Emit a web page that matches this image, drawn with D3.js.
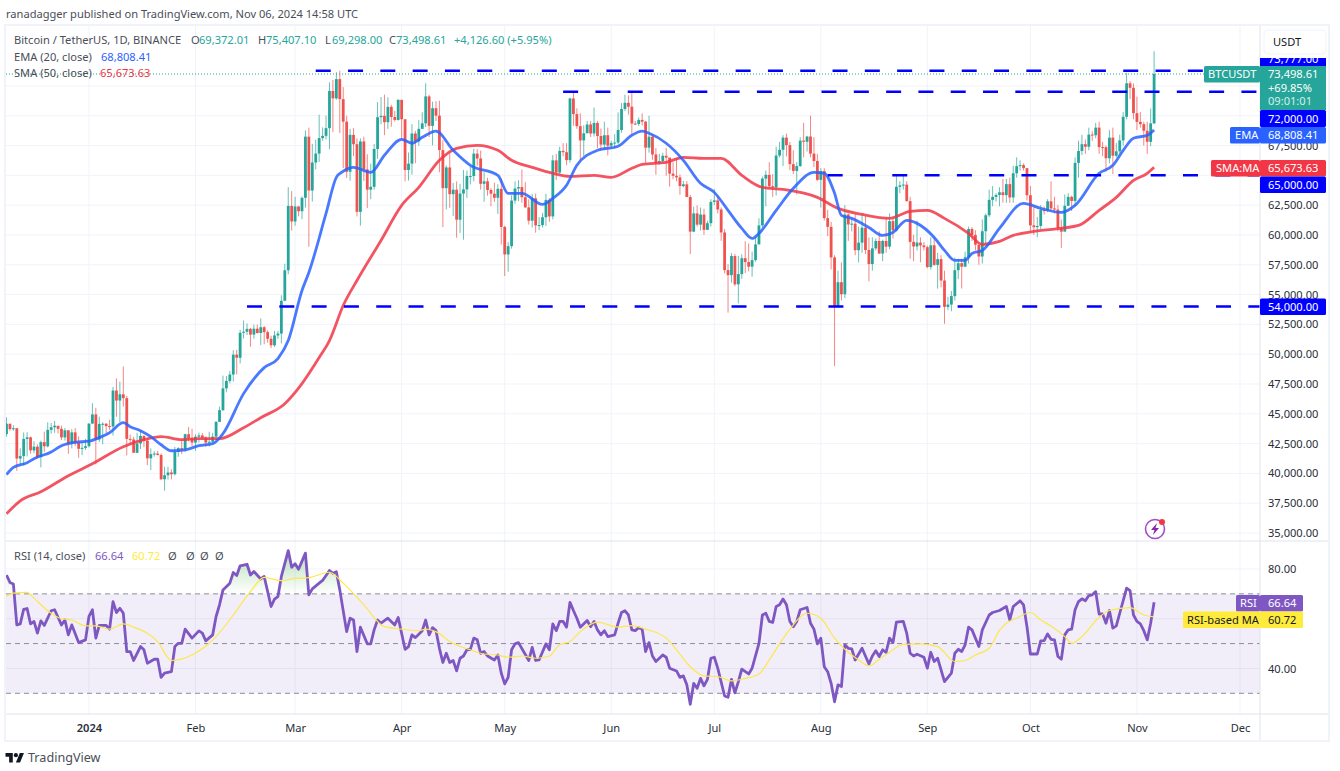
<!DOCTYPE html>
<html>
<head>
<meta charset="utf-8">
<title>BTCUSDT</title>
<script src="https://cdn.jsdelivr.net/npm/d3@7"></script>
<style>
  html, body { margin: 0; background: #fff; }
  text { font-family: "Noto Sans", sans-serif; font-size: 11.1px; fill: #131722; }
</style>
</head>
<body>
<svg id="chart" width="1340" height="771"></svg>
<script>
// Daily candles, first one is 2023-12-08. Opens follow the previous close.
const firstDay = new Date(2023, 11, 8);
const firstOpen = 43292;

const closes = [
  // Dec 8 ->
  44170,43713,43789,41243,41450,42890,43023,41929,42240,41364,42623,42270,43652,43869,43997,43739,43016,43613,42520,43442,42581,42066,42140,42283,
  // Jan
  44179,44946,42845,44151,44162,43968,43929,46951,46110,46632,46314,42893,42842,41732,42511,43143,42742,41262,41618,41665,41545,39507,39845,40077,39933,41816,42120,42035,43288,42952,42582,
  // Feb
  43075,43185,42992,42583,42658,43084,44318,45301,47132,47751,48293,49958,49699,51795,51880,52124,51642,52137,51774,52258,51849,51288,50744,51568,51728,54476,57037,62432,61130,
  // Mar
  62387,61987,63113,68245,63724,66074,66823,68124,68313,68955,72078,71452,73072,71388,69499,65300,68393,67609,61937,67840,65501,63796,64037,67211,69880,69988,69455,70744,69892,69645,71333,
  // Apr
  69702,65446,65980,68508,67837,68896,69360,71620,69146,70631,70006,67116,63924,65661,63419,63793,61277,63470,63818,64941,64941,66819,66414,64289,64498,63770,63461,63118,63866,60672,
  // May
  58364,59060,62882,63892,64012,63165,62312,61193,63074,60799,60825,61484,62936,61553,66256,65231,67051,66940,66278,71446,70136,69122,67929,68526,69265,68508,69394,68296,67578,68364,67491,
  // Jun
  67706,67751,68804,70567,71082,70757,69342,69305,69649,69500,67321,68243,66747,66006,66191,66639,66490,65140,64960,64828,64096,64245,63180,60277,61806,60864,61706,60427,60986,62772,
  // Jul
  62899,62135,60208,57050,56628,58230,55857,56714,58050,57725,57339,57889,59204,60797,64724,65043,64087,63987,66660,67139,68165,67532,65936,65372,65777,67912,67813,68255,66819,66201,64619,
  // Aug
  65357,61415,60680,58116,53991,56034,55027,61710,60880,60945,58719,59354,60609,58739,57560,58874,59491,58439,59494,59017,61157,60381,64037,64157,64220,62834,59416,59034,59359,59123,58973,
  // Sep
  57301,59132,57487,57970,56180,53962,54160,54869,57042,57631,57341,58127,60498,60000,59182,58192,60309,61649,62940,63192,63348,63578,63339,64262,63143,65173,65769,65858,65602,63327,
  // Oct
  60805,60649,60752,62086,62058,62819,62224,62131,60582,60274,62445,63193,62851,66046,67041,67612,67399,68418,68362,69001,67367,67361,66432,68161,66642,67014,67929,69907,72720,72339,70215,
  // Nov
  69482,69289,68741,67811,69359,73498
];

const highs = [
  44700,44050,44040,43800,42100,43430,43450,43090,42700,42430,42750,43500,44284,44230,44400,43950,44000,43800,43600,43700,43800,43100,42600,42900,
  44184,45879,45500,44770,44300,44225,44500,47248,47972,47695,48969,46500,43257,43079,43400,43578,43198,42930,42100,41865,41880,41680,40555,40555,40350,42225,42200,42842,43333,43882,43745,
  43285,43422,43380,43120,43494,43400,44396,45600,48200,48170,48592,50334,50368,52043,52820,52576,52200,52473,52485,53000,52370,52000,51550,51960,51950,54938,57588,64000,63677,
  63200,62433,63230,68760,69000,67637,67990,70084,69020,70005,72800,73000,73650,73777,72400,70000,68900,68956,68100,68100,68240,66770,65976,67622,71150,71561,71768,71552,70912,70400,71366,
  71288,69700,66914,69291,68725,69629,70288,72715,71758,71172,71227,71256,67931,65838,66867,64355,64486,64293,65450,65399,65723,67233,67200,67076,65275,64800,63910,64370,64250,64734,
  60780,59400,63320,64494,64600,65500,64422,62995,63445,63469,61490,61850,63450,63100,66700,66800,67400,67700,67700,71515,71980,70623,70200,69200,69562,69550,70687,69560,68920,69500,69000,
  67900,68450,70274,71063,71758,71700,71997,69560,69850,70195,69560,70000,68449,67300,66800,66900,67298,65729,66080,66480,65066,64525,64520,63360,62370,62480,62300,62200,61190,63000,
  63860,63290,62300,60500,57550,58472,58400,58240,58380,59470,59300,58600,59850,61400,64900,65400,66100,65100,67400,67800,68370,68500,67800,67100,66100,68200,69400,68318,70000,68200,66800,
  65600,65600,62100,61100,58300,57000,57700,62500,61800,61400,61800,60700,61800,61600,59800,59800,59700,60300,59600,61400,61800,61400,64950,64500,65000,64500,63200,60000,61200,59800,59400,
  59100,59800,59800,58500,58300,57000,54800,55300,58100,58000,58000,58600,60700,60650,60400,59200,61300,61800,63800,64100,63500,64000,64700,64700,64800,65800,66500,66260,66000,65600,
  64100,62400,61500,62500,62400,63000,64500,63200,62500,61300,63400,63500,63300,66500,67900,68400,68000,69000,68700,69400,69500,67800,67500,68800,69000,67700,68400,70300,73600,72900,72700,
  71600,70300,69500,69500,70600,75407
];

const lows = [
  43081,43580,43560,40222,40680,40650,41420,41660,41700,41250,40500,41800,42180,43330,43400,43350,42800,42750,41640,42100,42300,41300,41530,41970,
  42176,44148,40750,42630,42450,43400,43630,43175,44750,44300,45606,41500,42436,41720,41700,42050,42200,40683,40280,41400,41500,39432,38555,39480,39500,39825,41394,41620,41804,42683,42276,
  41884,42584,42880,42222,42258,42574,42788,44320,45242,46800,47555,47711,48300,49225,51315,51600,50625,51300,51715,50760,50830,50960,50521,50600,51280,50901,54450,56700,60364,
  60772,61559,61321,62300,59005,62800,65500,66116,67900,68000,67194,68620,71333,68555,65600,64780,64555,66600,61555,60775,64529,62260,63000,63790,66385,69280,68359,68900,69077,69514,69580,
  68062,64493,64559,65064,66011,67491,68900,69040,68210,67518,69557,65254,60660,62134,62274,61600,59768,60172,59600,63100,64237,64500,65800,63800,62783,63297,62400,62770,61765,59191,
  56552,56911,58848,62600,62835,62700,62250,60866,60630,60187,60400,60630,60750,61100,61300,64600,65100,66600,65857,66060,69162,68900,66300,66600,68777,68214,68250,67300,67100,67118,66670,
  67300,67257,67600,68564,70383,70100,68420,69210,69130,69180,66051,66900,66304,65057,65890,66024,64970,64050,64670,64500,63379,64000,63178,58400,60220,60700,60370,60000,60450,60700,
  62500,61800,59500,56771,53485,56000,55700,54260,56300,56800,56950,56500,57750,59500,60630,62400,63900,63200,63300,66500,65777,66580,65440,65100,63400,65700,66500,67000,66500,65700,64530,
  62300,61200,59900,57100,49000,53900,54500,54700,59500,60300,58300,57700,58500,58400,56100,57000,58700,58400,57800,58500,58800,59700,60300,63500,63800,62800,58000,57800,58700,57700,58700,
  57200,57100,57400,55500,55600,52550,53700,53600,54500,56300,55500,57300,57600,59500,58700,57500,57600,59200,61500,62400,62800,62400,62700,62700,62700,62700,64800,65400,65400,62900,
  60200,60000,59800,60500,61700,61900,62000,61800,60300,58900,60400,62400,62000,62400,64800,66700,66800,67100,67900,68100,66800,66600,65300,66000,65100,66500,66800,67500,69700,71400,69700,
  68800,69000,67500,66800,67450,69298
];

// EMA 20: day number after firstDay, value
const emaDays = [0,2,6,8,13,16,20,24,27,30,34,36,39,42,45,48,52,56,60,63,69,75,79,82,86,88,93,96,98,101,106,110,115,118,121,125,130,135,143,146,150,156,159,163,166,172,178,182,185,187,192,197,202,206,210,214,217,219,224,229,235,238,241,243,246,251,255,258,262,265,270,273,276,279,281,284,289,296,301,307,311,318,322,325,328,332,334];
const emaValues = [39900,40500,40890,41230,41800,42320,42610,42700,43000,43410,44250,43920,43580,43080,42400,41900,41980,42320,42490,43330,46690,48870,49630,51140,55340,56850,61800,64830,65340,65670,65250,66680,68020,67690,68190,68700,67100,65840,65000,63490,63490,62560,63070,64160,65840,67100,67440,68360,68700,68530,67690,66260,64330,63570,62060,60550,59710,60130,62060,63910,65250,65170,63490,61640,61390,60630,59960,60210,61220,60970,59790,58700,57860,57860,58450,58700,60550,62650,62230,61890,62480,65170,65840,67100,68110,68360,68808];

// SMA 50
const smaDays = [0,4,10,18,25,34,40,45,51,56,62,69,74,81,86,91,94,98,102,109,115,120,126,131,137,143,147,153,159,164,171,176,182,185,192,197,203,208,214,220,226,236,242,249,257,263,268,273,280,284,289,293,299,312,318,323,328,332,334];
const smaValues = [36608,37700,38456,39800,40808,42236,42824,43076,42824,42908,42908,43832,44672,45848,47528,49712,51140,54080,56180,59540,62480,63992,66260,67268,67520,67100,66260,65672,65168,64916,65000,64832,65588,65924,66092,66512,66428,66428,65000,63992,63824,63152,62228,61724,61388,61976,62060,61388,60128,59204,59456,59960,60296,60800,62060,63152,64580,65168,65674];

// RSI 14
const rsiDays = [0,1,2,3,4,5,6,7,8,9,10,11,13,14,16,17,18,19,21,23,24,25,26,27,29,30,31,32,33,34,35,36,37,39,40,41,43,44,45,46,48,49,50,51,52,54,56,57,58,60,61,62,63,65,66,67,68,70,71,72,74,75,77,78,79,80,82,83,84,85,87,88,89,91,92,94,95,96,97,99,100,101,102,103,105,106,107,108,109,111,113,114,116,117,118,119,121,122,123,124,125,126,127,128,129,130,131,132,133,134,135,136,137,138,139,140,142,143,144,145,146,147,148,149,152,153,154,155,157,158,159,160,161,162,163,164,165,166,167,169,170,171,172,173,174,175,177,178,179,180,181,182,183,184,185,186,187,188,189,191,192,193,195,196,197,198,199,200,201,202,203,204,205,206,207,209,210,211,212,213,214,216,217,219,220,221,222,223,224,225,226,227,228,229,230,231,233,234,235,236,237,238,239,240,241,242,243,244,245,246,247,249,251,252,253,254,255,256,257,258,259,261,262,263,264,265,267,268,269,270,271,273,275,276,277,278,279,280,281,283,284,286,287,289,291,292,293,295,296,297,298,300,301,302,303,304,305,306,307,308,309,310,311,312,313,314,315,316,317,318,319,320,321,322,323,324,326,327,328,329,330,331,332,333,334];
const rsiValues = [77.6,74.6,74.0,57.5,57.9,63.8,64.1,57.9,58.9,54.2,59.1,57.3,63.2,63.6,57.5,59.5,53.5,57.5,50.4,51.5,60.9,63.6,52.2,57.3,57.3,55.8,66.9,62.5,64.2,62.2,46.8,46.8,43.2,48.8,47.5,42.1,43.7,43.7,36.4,38.1,38.7,48.8,50.1,50.1,55.8,52.2,55.1,54.2,51.1,53.5,60.9,65.6,71.6,74.3,78.6,77.4,81.3,81.9,77.6,79.0,76.0,77.0,64.9,67.9,68.9,77.0,87.4,80.7,82.1,79.9,86.4,69.6,72.0,74.3,75.4,79.4,78.3,78.9,71.6,54.8,60.2,59.5,46.8,56.6,49.9,49.9,55.5,59.5,58.2,60.2,57.5,60.5,47.7,48.8,53.5,52.4,55.2,59.5,53.5,56.4,55.2,48.1,42.4,46.1,42.4,43.2,39.0,44.1,45.0,47.5,47.7,52.2,51.5,46.1,46.8,45.0,43.4,45.4,38.1,33.8,36.4,47.5,49.9,50.4,43.2,48.5,43.2,43.4,49.9,47.5,57.9,55.2,58.9,58.9,56.6,66.6,63.3,60.2,56.6,59.3,56.8,58.9,55.5,53.5,55.2,52.8,53.5,58.2,62.5,63.2,61.5,55.5,55.2,56.4,55.8,46.8,50.4,45.0,42.8,45.4,44.5,40.1,39.0,36.4,37.0,33.4,25.6,34.0,32.0,36.0,33.0,35.6,44.1,44.5,40.1,28.9,28.4,35.6,30.2,34.7,39.7,37.8,40.1,50.1,61.5,62.2,58.9,58.5,64.9,65.6,67.9,65.6,58.9,56.8,58.9,63.6,64.5,58.2,55.8,49.9,52.2,40.7,38.7,34.0,26.6,33.4,32.7,49.5,48.1,47.9,43.4,48.1,41.8,45.0,47.1,44.8,47.5,46.5,52.2,50.4,58.6,58.9,54.2,46.1,45.0,45.7,44.5,40.1,46.5,42.8,44.1,34.7,38.1,46.1,47.7,46.8,49.5,56.6,55.5,48.8,55.5,61.5,62.5,63.3,64.9,59.5,64.9,67.2,65.6,56.8,45.8,45.8,51.1,51.2,53.9,51.7,51.5,44.8,43.7,53.5,55.5,55.8,63.6,66.9,68.0,67.2,69.3,69.6,70.9,61.9,61.9,58.2,63.3,56.2,57.1,62.2,72.3,71.3,61.5,58.9,57.9,55.2,51.5,58.2,66.64];

// RSI-based MA
const rsiMaDays = [0,2,6,8,12,16,19,23,26,30,34,37,44,48,54,58,61,66,71,75,80,84,88,94,98,104,110,115,120,122,126,129,135,139,143,146,150,154,158,161,164,167,172,178,182,186,192,195,199,203,207,211,215,219,222,225,228,233,237,241,244,248,251,254,257,261,266,271,276,279,282,286,289,291,294,298,301,304,308,310,313,318,321,327,331,334];
const rsiMaValues = [69.0,70.3,70.6,68.3,63.2,60.0,59.5,57.1,57.1,55.8,57.9,56.6,50.8,43.2,45.4,49.0,52.8,61.5,70.9,76.6,75.3,76.2,76.5,78.7,74.3,65.6,56.8,55.8,55.2,55.8,54.0,50.8,47.5,45.8,45.4,44.5,45.0,44.1,45.0,49.5,50.8,54.8,58.6,56.6,57.2,55.8,52.2,47.5,40.7,37.0,36.7,35.0,36.0,37.8,43.4,49.9,55.8,62.2,60.2,52.2,47.7,43.4,41.0,43.7,46.5,49.7,49.9,48.8,42.8,43.2,45.4,48.1,55.3,58.2,60.2,62.5,59.5,57.1,52.8,50.1,52.8,60.6,63.3,64.5,61.5,60.72];

// Drawn support and resistance levels, with the day each one starts
const levelPrices = [73777, 72000, 65000, 54000];
const levelStarts = [new Date(2024, 2, 7), new Date(2024, 4, 18), new Date(2024, 7, 3), new Date(2024, 1, 16)];

const priceTicks = d3.range(35000, 72501, 2500);
// these three sit under the coloured price tags, so no tick text for them
const hiddenPriceLabels = [65000, 70000, 72500];
const rsiTicks = [80, 60, 40];
const rsiBands = [70, 50, 30];
const monthTicks = [new Date(2024,0,1),new Date(2024,1,1),new Date(2024,2,1),new Date(2024,3,1),new Date(2024,4,1),new Date(2024,5,1),new Date(2024,6,1),new Date(2024,7,1),new Date(2024,8,1),new Date(2024,9,1),new Date(2024,10,1),new Date(2024,11,1)];
const lastClose = 73498.61;

const up = "#26a69a", down = "#ef5350", blue = "#2962ff", red = "#f23645", purple = "#7e57c2", level = "#0000ff";
const grid = "#f0f3fa", sep = "#e0e3eb";

const left = 6, right = 1260, outerRight = 1328, chartTop = 26, mainBottom = 541, rsiBottom = 714, axisBottom = 740;

const svg = d3.select("#chart");
const day = i => d3.timeDay.offset(firstDay, i);

const x = d3.scaleTime().domain([firstDay, new Date(2024, 11, 1)]).range([6.5, 1240]);
const y = d3.scaleLinear().domain([35000, 75000]).range([533, 56.1]);
const yRsi = d3.scaleLinear().domain([30, 80]).range([693.3, 569]);

const candles = closes.map((c, i) => ({
  date: day(i), open: i ? closes[i - 1] : firstOpen, close: c, high: highs[i], low: lows[i]
}));

const defs = svg.append("defs");
const clip = (id, x0, y0, w, h) => defs.append("clipPath").attr("id", id).append("rect")
  .attr("x", x0).attr("y", y0).attr("width", w).attr("height", h);
clip("main", left, chartTop, right - left, mainBottom - chartTop);
clip("rsi", left, mainBottom, right - left, rsiBottom - mainBottom);
clip("over", left, mainBottom, right - left, yRsi(70) - mainBottom);
clip("under", left, yRsi(30), right - left, rsiBottom - yRsi(30));
clip("athLabel", right, 58, 66, 8);

const gradient = (id, color, y1, y2, o1) => {
  const g = defs.append("linearGradient").attr("id", id).attr("gradientUnits", "userSpaceOnUse")
    .attr("x1", 0).attr("x2", 0).attr("y1", y1).attr("y2", y2);
  g.append("stop").attr("offset", 0).attr("stop-color", color).attr("stop-opacity", o1);
  g.append("stop").attr("offset", 1).attr("stop-color", color).attr("stop-opacity", 0);
};
gradient("overFill", "#4caf50", yRsi(88), yRsi(70), 0.42);
gradient("underFill", "#ef5350", yRsi(24), yRsi(30), 0.35);

// Grid
const gridG = svg.append("g");
gridG.selectAll(".v").data(monthTicks).enter().append("line")
  .attr("x1", d => x(d)).attr("x2", d => x(d)).attr("y1", chartTop).attr("y2", rsiBottom)
  .attr("stroke", grid);
gridG.selectAll(".h").data(priceTicks).enter().append("line")
  .attr("x1", left).attr("x2", right).attr("y1", d => y(d)).attr("y2", d => y(d))
  .attr("stroke", grid);
gridG.selectAll(".r").data(rsiTicks).enter().append("line")
  .attr("x1", left).attr("x2", right).attr("y1", d => yRsi(d)).attr("y2", d => yRsi(d))
  .attr("stroke", grid);

// Candles
const plot = svg.append("g").attr("clip-path", "url(#main)");
const candle = plot.selectAll(".candle").data(candles).enter().append("g");
candle.append("line")
  .attr("x1", d => x(d.date)).attr("x2", d => x(d.date))
  .attr("y1", d => y(d.high)).attr("y2", d => y(d.low))
  .attr("stroke", d => d.close >= d.open ? up : down)
  .attr("stroke-opacity", 0.7);
candle.append("rect")
  .attr("x", d => x(d.date) - 1.4).attr("width", 2.8)
  .attr("y", d => y(Math.max(d.open, d.close)))
  .attr("height", d => Math.max(1, Math.abs(y(d.open) - y(d.close))))
  .attr("fill", d => d.close >= d.open ? up : down);

// Moving averages
const priceLine = d3.line().x(d => x(day(d[0]))).y(d => y(d[1])).curve(d3.curveMonotoneX);
plot.append("path").datum(d3.zip(smaDays, smaValues)).attr("d", priceLine)
  .attr("fill", "none").attr("stroke", red).attr("stroke-width", 2.8).attr("stroke-opacity", 0.85);
plot.append("path").datum(d3.zip(emaDays, emaValues)).attr("d", priceLine)
  .attr("fill", "none").attr("stroke", blue).attr("stroke-width", 2.8).attr("stroke-opacity", 0.85);

// Last price line
svg.append("line")
  .attr("x1", left).attr("x2", 1204).attr("y1", y(lastClose)).attr("y2", y(lastClose))
  .attr("stroke", up).attr("stroke-dasharray", "1 2");

// Levels
svg.selectAll(".level").data(d3.zip(levelPrices, levelStarts)).enter().append("line")
  .attr("x1", d => x(d[1])).attr("x2", right)
  .attr("y1", d => y(d[0])).attr("y2", d => y(d[0]))
  .attr("stroke", level).attr("stroke-width", 2.5).attr("stroke-dasharray", "15 17.3");

// RSI pane
svg.append("rect").attr("x", left).attr("width", right - left)
  .attr("y", yRsi(70)).attr("height", yRsi(30) - yRsi(70))
  .attr("fill", purple).attr("fill-opacity", 0.1);
svg.selectAll(".band").data(rsiBands).enter().append("line")
  .attr("x1", left).attr("x2", right).attr("y1", d => yRsi(d)).attr("y2", d => yRsi(d))
  .attr("stroke", "#787b86").attr("stroke-opacity", 0.85).attr("stroke-dasharray", "5 4");

const rsiData = d3.zip(rsiDays, rsiValues);
svg.append("g").attr("clip-path", "url(#over)").append("path").datum(rsiData)
  .attr("d", d3.area().x(d => x(day(d[0]))).y0(yRsi(70)).y1(d => yRsi(d[1])))
  .attr("fill", "url(#overFill)");
svg.append("g").attr("clip-path", "url(#under)").append("path").datum(rsiData)
  .attr("d", d3.area().x(d => x(day(d[0]))).y0(yRsi(30)).y1(d => yRsi(d[1])))
  .attr("fill", "url(#underFill)");

const rsiLine = d3.line().x(d => x(day(d[0]))).y(d => yRsi(d[1]));
const rsiPlot = svg.append("g").attr("clip-path", "url(#rsi)");
rsiPlot.append("path").datum(rsiData).attr("d", rsiLine)
  .attr("fill", "none").attr("stroke", purple).attr("stroke-width", 2.8).attr("stroke-linejoin", "round");
rsiPlot.append("path").datum(d3.zip(rsiMaDays, rsiMaValues)).attr("d", rsiLine.curve(d3.curveMonotoneX))
  .attr("fill", "none").attr("stroke", "#fde74c").attr("stroke-width", 1.2);

// Frame
svg.append("rect").attr("x", 5).attr("y", 25).attr("width", outerRight - 4).attr("height", axisBottom - 24)
  .attr("fill", "none").attr("stroke", grid).attr("stroke-width", 2);
[mainBottom, rsiBottom].forEach(v => svg.append("line")
  .attr("x1", left).attr("x2", outerRight).attr("y1", v).attr("y2", v).attr("stroke", sep));
svg.append("line").attr("x1", right).attr("x2", right).attr("y1", chartTop).attr("y2", axisBottom).attr("stroke", sep);

// Axes
const clean = g => { g.select(".domain").remove(); g.selectAll(".tick line").remove(); };
svg.append("g").attr("transform", `translate(${right + 8},0)`)
  .call(d3.axisRight(y).tickValues(priceTicks.filter(d => !hiddenPriceLabels.includes(d)))
    .tickFormat(d3.format(",.2f")).tickSize(0).tickPadding(0))
  .call(clean);
svg.append("g").attr("transform", `translate(${right + 8},0)`)
  .call(d3.axisRight(yRsi).tickValues(rsiTicks).tickFormat(d3.format(".2f")).tickSize(0).tickPadding(0))
  .call(clean);
svg.append("g").attr("transform", `translate(0,${rsiBottom + 10})`)
  .call(d3.axisBottom(x).tickValues(monthTicks)
    .tickFormat(d => d.getMonth() === 0 ? "2024" : d3.timeFormat("%b")(d)).tickSize(0).tickPadding(0))
  .call(clean)
  .selectAll("text").attr("font-weight", (d, i) => i === 0 ? 600 : 400);
svg.selectAll(".tick text").style("font-family", "\"Noto Sans\", sans-serif").style("font-size", "11.1px").style("fill", "#2a2e39");

// Right side labels
const tag = (x0, y0, w, h, fill, str, color, anchorX, parent) => {
  const g = (parent || svg).append("g");
  g.append("rect").attr("x", x0).attr("y", y0).attr("width", w).attr("height", h).attr("rx", 1.5).attr("fill", fill);
  g.append("text").attr("x", anchorX === undefined ? x0 + 8 : anchorX).attr("y", y0 + h / 2 + 4).text(str).style("fill", color);
};

svg.append("rect").attr("x", 1264).attr("y", 30).attr("width", 62).attr("height", 24).attr("rx", 4)
  .attr("fill", "#fff").attr("stroke", grid);
svg.append("text").attr("x", 1273).attr("y", 46).text("USDT");

tag(right, 51, 66, 16, level, "73,777.00", "#fff", right + 8, svg.append("g").attr("clip-path", "url(#athLabel)"));
svg.append("rect").attr("x", right).attr("y", 66).attr("width", 66).attr("height", 44).attr("fill", up);
svg.append("text").attr("x", right + 8).attr("y", 78).text("73,498.61").style("fill", "#fff");
svg.append("text").attr("x", right + 8).attr("y", 92).text("+69.85%").style("fill", "#fff");
svg.append("text").attr("x", right + 8).attr("y", 105).text("09:01:01").style("fill", "#d4eeeb");
tag(1204, 66, 56, 16.5, up, "BTCUSDT", "#fff", 1208);
tag(right, 110, 66, 17, level, "72,000.00", "#fff");
tag(1230, 127, 30, 16.5, blue, "EMA", "#fff", 1235);
tag(right, 127, 66, 16.5, blue, "68,808.41", "#fff");
tag(1211, 160, 49, 16.5, red, "SMA:MA", "#fff", 1216);
tag(right, 160, 66, 16.5, red, "65,673.63", "#fff");
tag(right, 176.5, 66, 16.5, level, "65,000.00", "#fff");
tag(right, y(54000) - 8, 66, 16.5, level, "54,000.00", "#fff");

tag(1236, 595, 24, 16.5, purple, "RSI", "#fff", 1240);
tag(right, 595, 43, 16.5, purple, "66.64", "#fff", 1268);
tag(1183, 611.5, 77, 16.5, "#ffeb3b", "RSI-based MA", "#131722", 1187);
tag(right, 611.5, 43, 16.5, "#ffeb3b", "60.72", "#131722", 1268);

// Header and legends
const label = (x0, y0, str, color) => svg.append("text").attr("x", x0).attr("y", y0).text(str).style("fill", color || "#4a4e57");
label(6, 18, "ranadagger published on TradingView.com, Nov 06, 2024 14:58 UTC");
label(14, 44, "Bitcoin / TetherUS, 1D, BINANCE");
label(191, 44, "O"); label(199, 44, "69,372.01", up);
label(258, 44, "H"); label(266, 44, "75,407.10", up);
label(325, 44, "L"); label(332, 44, "69,298.00", up);
label(389, 44, "C"); label(396, 44, "73,498.61", up);
label(454, 44, "+4,126.60 (+5.95%)", up);
label(14, 61, "EMA (20, close)"); label(101, 61, "68,808.41", blue);
label(14, 77, "SMA (50, close)"); label(100, 77, "65,673.63", red);
label(14, 560, "RSI (14, close)"); label(95, 560, "66.64", purple); label(132, 560, "60.72", "#ffeb3b");
[168, 186, 200, 215].forEach(v => label(v, 560, "Ø"));

// Lightning badge
const badge = svg.append("g").attr("transform", "translate(1155,529)");
badge.append("circle").attr("r", 9.5).attr("fill", "none").attr("stroke", "#a34fc4").attr("stroke-width", 1.6);
badge.append("path").attr("d", "M2,-6 L-4,1 L-0.5,1 L-2,6 L4,-1 L0.5,-1 Z").attr("fill", "#8e24aa");
badge.append("circle").attr("cx", 7).attr("cy", -7).attr("r", 3).attr("fill", "#f23645");

// Footer logo
const logo = svg.append("g").attr("transform", "translate(5.5,751) scale(0.52)").attr("fill", "#131722");
logo.append("path").attr("d", "M14 22H7V11H0V4h14v18zM28 22h-8l7.5-18h8L28 22z");
logo.append("circle").attr("cx", 20).attr("cy", 8).attr("r", 4);
svg.append("text").attr("x", 28).attr("y", 762).text("TradingView").style("font-size", "12.6px").style("fill", "#4a4e57");
</script>
</body>
</html>
